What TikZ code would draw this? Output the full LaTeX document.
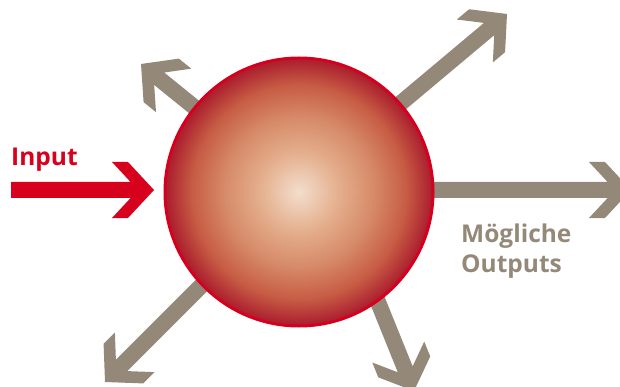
\documentclass[tikz,border=0pt]{standalone}
\usepackage{fontspec}
\newfontfamily\labelfont{Open Sans}
\definecolor{inred}{HTML}{D7001D}
\definecolor{outgray}{HTML}{948979}
\definecolor{rimred}{HTML}{D5001E}
\definecolor{sphA}{HTML}{F3DECD}
\definecolor{sphB}{HTML}{E4AE8C}
\definecolor{sphC}{HTML}{D68A68}
\definecolor{sphD}{HTML}{C75C44}
\definecolor{sphE}{HTML}{AD2230}
\pgfdeclareradialshading{sphere}{\pgfpoint{0bp}{0bp}}{color(0bp)=(sphA); color(7.5bp)=(sphB); color(14bp)=(sphC); color(20bp)=(sphD); color(24.5bp)=(sphE); color(50bp)=(sphE)}
\newcommand\bigarrow[4]{%
  \fill[#1, shift={(#2)}, rotate=#3] (-#4,8) -- (-23.4,8) -- (-42,28) -- (-26,28) -- (0,0)
    -- (-26,-28) -- (-42,-28) -- (-23.4,-8) -- (-#4,-8) -- cycle;}
\tikzset{
  outarrow/.style={fill=outgray},
  inarrow/.style={fill=inred},
  sphere node/.style={circle, minimum size=268pt, inner sep=0pt, shading=sphere, draw=rimred, line width=3pt},
  inlabel/.style={font=\labelfont\bfseries\fontsize{24.5}{30}\selectfont, text=inred, inner sep=0pt, anchor=base west},
  outlabel/.style={font=\labelfont\bfseries\fontsize{24.5}{30}\selectfont, text=outgray, inner sep=0pt, anchor=base west}
}
\begin{document}
\begin{tikzpicture}[x=1pt, y=-1pt]
\useasboundingbox (0,0) rectangle (620,387);
\clip (0,0) rectangle (620,387);
\coordinate (tipR) at (631,190);
\coordinate (tipUR) at (507,14);
\coordinate (tipUL) at (141,64);
\coordinate (tipLL) at (105,382);
\coordinate (tipLR) at (414,391);
\coordinate (tipIn) at (154,190);
\bigarrow{outarrow}{tipR}{0}{250}
\bigarrow{outarrow}{tipUR}{40}{200}
\bigarrow{outarrow}{tipUL}{141}{150}
\bigarrow{outarrow}{tipLL}{225}{200}
\bigarrow{outarrow}{tipLR}{-68}{150}
\bigarrow{inarrow}{tipIn}{0}{143}
\node[sphere node] (ball) at (299,192) {};
\node[inlabel] (input) at (11,166) {Input};
\node[outlabel] (out1) at (461,242) {Mögliche};
\node[outlabel] (out2) at (461,272) {Outputs};
\end{tikzpicture}
\end{document}
